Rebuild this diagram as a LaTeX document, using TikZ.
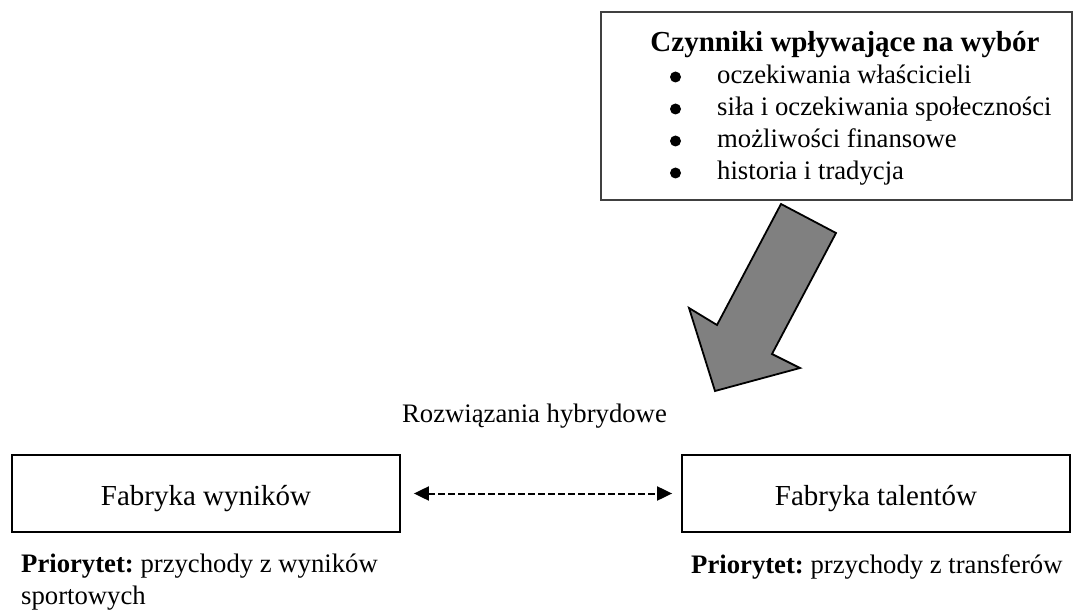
\documentclass[tikz,border=0pt]{standalone}
\usepackage{fontspec}
\setmainfont{Liberation Serif}
\usetikzlibrary{arrows.meta}
\definecolor{arrowgray}{RGB}{128,128,128}
\tikzset{headtip/.tip={Triangle[length=15bp,width=14bp]}}
\frenchspacing
\begin{document}
\begin{tikzpicture}[x=1bp,y=-1bp,
  every node/.style={font=\fontsize{26.7bp}{32bp}\selectfont, inner sep=0pt},
  big/.style={font=\fontsize{29bp}{32bp}\selectfont},
  box/.style={draw=black, line width=1.8bp},
  factorbox/.style={draw=black!75, line width=1.8bp},
  dot/.style={circle, fill=black, minimum size=11bp}]
\useasboundingbox (0,0) rectangle (1074,610);

% factors box with heading and bullet list
\node[factorbox, minimum width=471bp, minimum height=188bp] (factors) at (836.5,106) {};
\node[big, anchor=base] (head) at (845,52) {\textbf{Czynniki wpływające na wybór}};
\node[dot] (b1) at (675.5,77) {};
\node[dot] (b2) at (675.5,109) {};
\node[dot] (b3) at (675.5,141) {};
\node[dot] (b4) at (675.5,173) {};
\node[anchor=base west] (i1) at (717,84) {oczekiwania właścicieli};
\node[anchor=base west] (i2) at (717,116) {siła i oczekiwania społeczności};
\node[anchor=base west] (i3) at (717,148) {możliwości finansowe};
\node[anchor=base west] (i4) at (717,180) {historia i tradycja};

% broad block arrow pointing down-left
\draw[line width=1.8bp, fill=arrowgray, line join=miter]
  (781,204) -- (836,233) -- (772,354) -- (800,368) -- (715,391)
  -- (689,308) -- (717,325) -- cycle;

\node[anchor=base] (hyb) at (534.5,422) {Rozwiązania hybrydowe};

% the two models
\node[box, minimum width=388bp, minimum height=77bp] (fw) at (206,493.5) {};
\node[box, minimum width=388bp, minimum height=77bp] (ft) at (876,493.5) {};
\node[big, anchor=base] (fwtext) at ([yshift=-11.5bp]fw.center) {Fabryka wyników};
\node[big, anchor=base] (fttext) at ([yshift=-11.5bp]ft.center) {Fabryka talentów};

\draw[dashed, dash pattern=on 7bp off 3bp, line width=2bp, {headtip}-{headtip},
  shorten <=13bp, shorten >=9bp] (fw) -- (ft);

\node[anchor=base west] (p1) at (21,572) {\textbf{Priorytet:} przychody z wyników};
\node[anchor=base west] (p1b) at (21,604) {sportowych};
\node[anchor=base west] (p2) at (691,573) {\textbf{Priorytet:} przychody z transferów};
\end{tikzpicture}
\end{document}
